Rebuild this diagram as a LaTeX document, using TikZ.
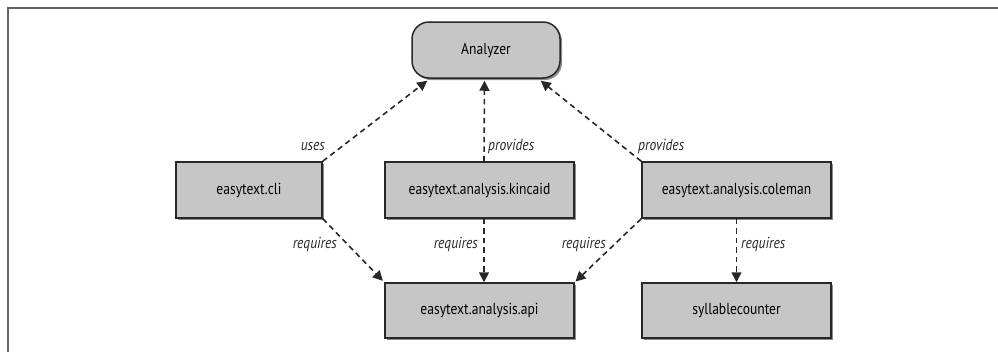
\documentclass[tikz,border=0pt]{standalone}
\usepackage{fontspec}
\setmainfont{PT Sans}[FakeStretch=0.85]
\usetikzlibrary{arrows.meta,shadows,calc}
\definecolor{boxfill}{RGB}{198,198,198}
\definecolor{edge}{RGB}{40,40,40}
\definecolor{framec}{RGB}{100,100,100}
\begin{document}
\begin{tikzpicture}[x=1bp,y=-1bp,
  modbox/.style={draw=edge, line width=1.5bp, fill=boxfill, minimum height=56bp, inner sep=0pt,
    font=\fontsize{16}{18}\selectfont,
    drop shadow={shadow xshift=2bp, shadow yshift=-2bp, opacity=0.45, fill=black}},
  dep/.style={draw=edge, line width=1.6bp, dash pattern=on 5.5bp off 4bp,
    -{Triangle[length=10bp,width=10bp]}},
  lbl/.style={font=\fontsize{16}{18}\selectfont\itshape, text=edge, inner sep=0pt}]
\useasboundingbox (0,0) rectangle (998,351);
\draw[framec, line width=1.2bp] (8,352) -- (8,8) -- (999,8);

\node[modbox, rounded corners=17bp, minimum width=148bp] (an) at (486,50) {Analyzer};
\node[modbox, minimum width=146bp] (cli) at (249,190) {easytext.cli};
\node[modbox, minimum width=189bp] (kin) at (479.5,190) {easytext.analysis.kincaid};
\node[modbox, minimum width=189bp] (col) at (736.5,190) {easytext.analysis.coleman};
\node[modbox, minimum width=189bp, minimum height=55bp] (api) at (479.5,310.5) {easytext.analysis.api};
\node[modbox, minimum width=189bp, minimum height=55bp] (syl) at (736.5,310.5) {syllablecounter};

\draw[dep] (cli.north east) -- ($(an.south west)+(16,2)$);
\draw[dep] ($(kin.north)+(4.5,0)$) -- ($(an.south)+(-1.5,2)$);
\draw[dep] (col.north west) -- ($(an.south east)+(-20,2)$);
\draw[dep, shorten >=2bp] (cli.south east) -- (api.north west);
\draw[dep] ($(kin.south)+(4.5,0)$) -- ($(api.north)+(4.5,0)$);
\draw[dep, shorten >=1bp] (col.south west) -- (api.north east);
\draw[dep] (col.south) -- (syl.north);

\node[lbl, anchor=base east] (l1) at (325,150) {uses};
\node[lbl, anchor=base west] (l2) at (488,150) {provides};
\node[lbl, anchor=base west] (l3) at (638,150) {provides};
\node[lbl, anchor=base east] (l4) at (337,248) {requires};
\node[lbl, anchor=base east] (l5) at (478,248) {requires};
\node[lbl, anchor=base east] (l6) at (606,248) {requires};
\node[lbl, anchor=base west] (l7) at (741,248) {requires};
\end{tikzpicture}
\end{document}
